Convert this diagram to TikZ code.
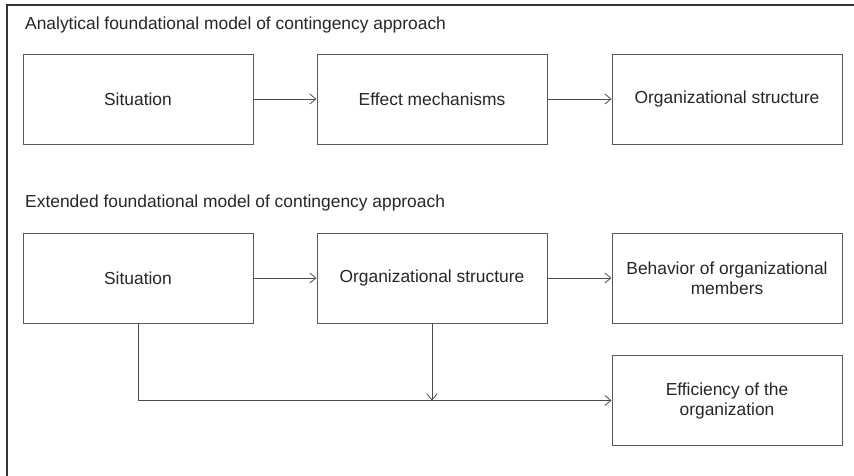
\documentclass[tikz,border=0pt]{standalone}
\usepackage{fontspec}
\setmainfont{Liberation Sans}
\usetikzlibrary{arrows.meta}
\begin{document}
\begin{tikzpicture}[x=1pt,y=-1pt,
  font=\fontsize{17.4}{20}\selectfont,
  box/.style={draw=black!65, line width=1pt, rectangle, minimum width=230pt, minimum height=90pt,
    inner sep=2pt, align=center, text=black!85},
  heading/.style={anchor=west, inner sep=0pt, text=black!85},
  conn/.style={draw=black!70, line width=0.8pt, -{Straight Barb[length=6pt,width=10pt,line width=0.8pt]}},
  plain/.style={draw=black!70, line width=0.8pt}]
\useasboundingbox (0,0) rectangle (854,475);
\draw[line width=2pt, black!80] (7,476) -- (7,5) -- (855,5);
\node[heading] (t1) at (25,25) {Analytical foundational model of contingency approach};
\node[box] (a1) at (138,99) {Situation};
\node[box] (a2) at (432,99) {Effect mechanisms};
\node[box] (a3) at (727,99) {Organizational structure};
\draw[conn] (a1) -- (a2);
\draw[conn] (a2) -- (a3);
\node[heading] (t2) at (25,203) {Extended foundational model of contingency approach};
\node[box] (b1) at (138,278) {Situation};
\node[box] (b2) at (432,278) {Organizational structure};
\node[box] (b3) at (727,278) {Behavior of organizational\\members};
\node[box] (b4) at (727,400.5) {Efficiency of the\\organization};
\draw[conn] (b1) -- (b2);
\draw[conn] (b2) -- (b3);
\coordinate (j1) at (b1.south |- b4.west);
\coordinate (j2) at (b2.south |- b4.west);
\draw[conn] (b1.south) -- (j1) -- (b4.west);
\draw[conn] (b2.south) -- (j2);
\end{tikzpicture}
\end{document}
